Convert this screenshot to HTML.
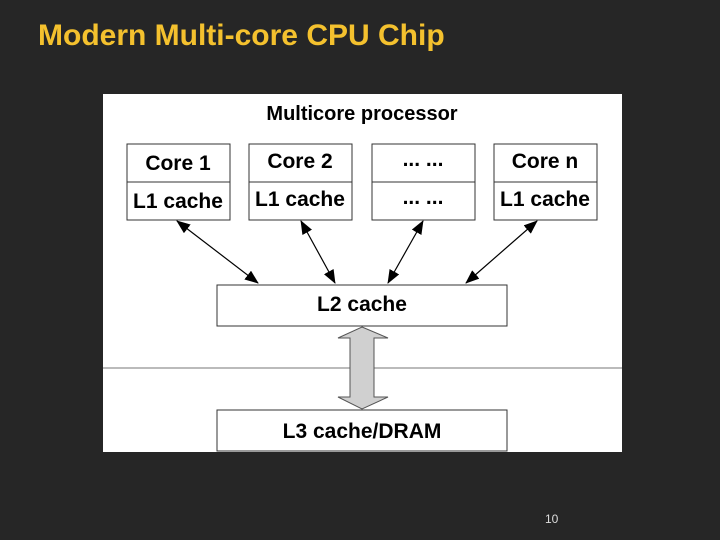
<!DOCTYPE html>
<html><head><style>
body{margin:0;width:720px;height:540px;background:#262626;overflow:hidden;position:relative;font-family:"Liberation Sans",sans-serif}
.t{position:absolute;left:38px;top:19px;color:#f4c12e;font-size:30px;font-weight:bold;white-space:nowrap}
.n{position:absolute;left:545px;top:512px;color:#ddd;font-size:12px}
</style></head><body>
<div class="t">Modern Multi-core CPU Chip</div>
<svg width="720" height="540" style="position:absolute;left:0;top:0" font-family="Liberation Sans, sans-serif" font-weight="bold">
<defs><marker id="a" markerWidth="14" markerHeight="11" refX="13" refY="5.5" orient="auto-start-reverse" markerUnits="userSpaceOnUse"><path d="M0,0L14,5.5L0,11z" fill="#000"/></marker></defs>
<rect x="103" y="94" width="519" height="358" fill="#fff"/>
<line x1="103" y1="368" x2="622" y2="368" stroke="#777" stroke-width="1"/>
<text x="362" y="120" text-anchor="middle" font-size="20" fill="#000">Multicore processor</text>
<g fill="#fff" stroke="#333" stroke-width="1">
<rect x="127" y="144" width="103" height="76"/><line x1="127" y1="182" x2="230" y2="182"/>
<rect x="249" y="144" width="103" height="76"/><line x1="249" y1="182" x2="352" y2="182"/>
<rect x="372" y="144" width="103" height="76"/><line x1="372" y1="182" x2="475" y2="182"/>
<rect x="494" y="144" width="103" height="76"/><line x1="494" y1="182" x2="597" y2="182"/>
<rect x="217" y="285" width="290" height="41"/>
<rect x="217" y="410" width="290" height="41"/>
</g>
<g font-size="21" text-anchor="middle" fill="#000">
<text x="178" y="170">Core 1</text><text x="178" y="208">L1 cache</text>
<text x="300" y="168">Core 2</text><text x="300" y="206">L1 cache</text>
<text x="423" y="166">... ...</text><text x="423" y="204">... ...</text>
<text x="545" y="168">Core n</text><text x="545" y="206">L1 cache</text>
<text x="362" y="311">L2 cache</text>
<text x="362" y="438">L3 cache/DRAM</text>
</g>
<g stroke="#000" stroke-width="1.2" marker-start="url(#a)" marker-end="url(#a)">
<line x1="177" y1="221" x2="258" y2="283"/>
<line x1="301" y1="221" x2="335" y2="283"/>
<line x1="423" y1="221" x2="388" y2="283"/>
<line x1="537" y1="221" x2="466" y2="283"/>
</g>
<path d="M362,327L388,338L374,338L374,397L388,397L362,409L338,397L350,397L350,338L338,338z" fill="#d0d0d0" stroke="#555" stroke-width="1"/>
</svg>
<div class="n">10</div>
</body></html>
